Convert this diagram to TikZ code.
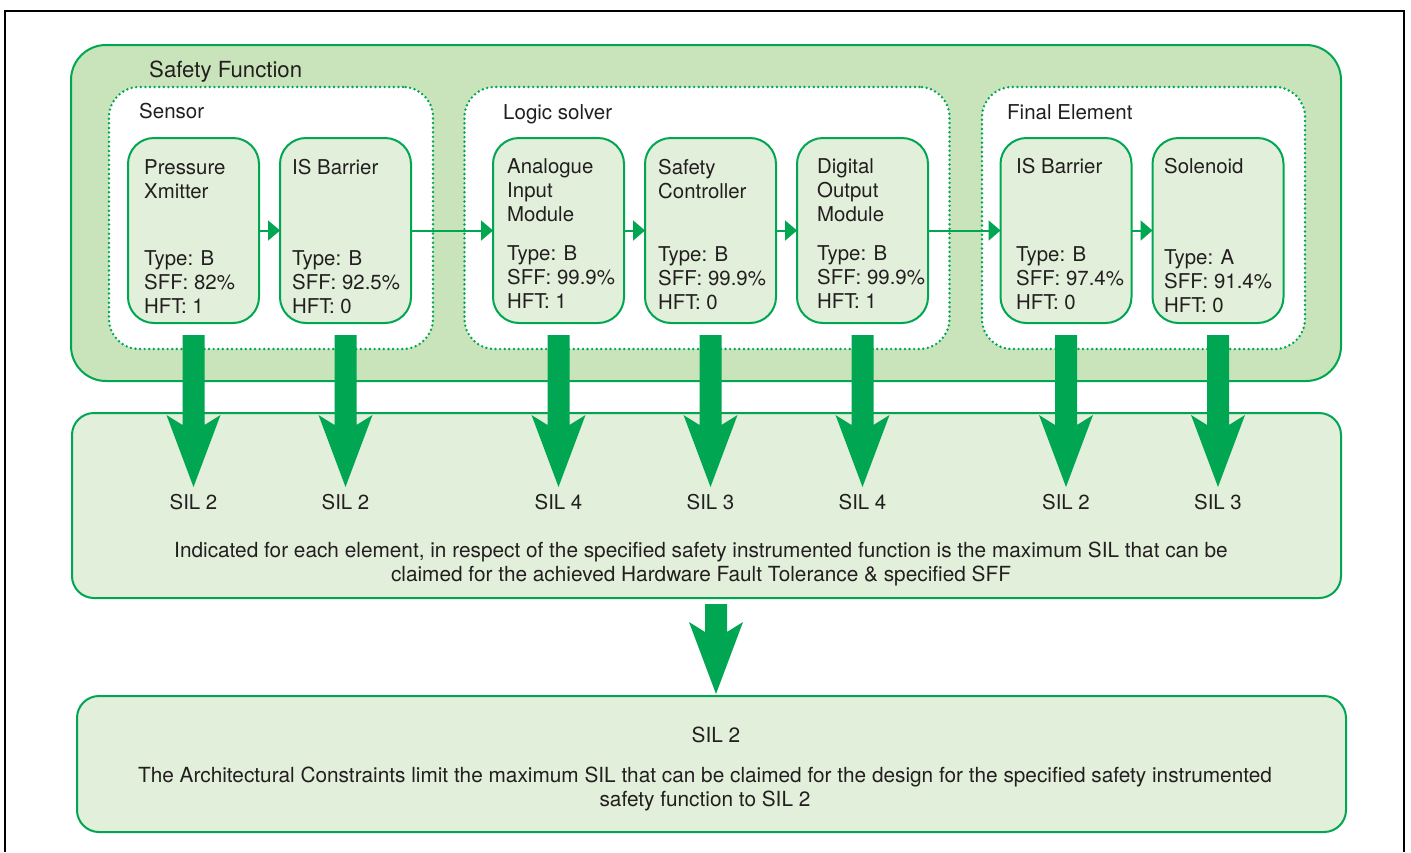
\documentclass[tikz,border=0pt]{standalone}
\usepackage{fontspec}
\setmainfont{TeX Gyre Heros}
\usetikzlibrary{arrows.meta}
\definecolor{sfgreen}{HTML}{00A651}
\definecolor{outerfill}{HTML}{C9E4BB}
\definecolor{innerfill}{HTML}{E2EFDA}
\definecolor{txtc}{HTML}{231F20}
\newcommand\txtlines[4]{\foreach \myline [count=\i] in {#4}{\node[txt,anchor=base west] (#1-\i) at (#2,{#3+24*(\i-1)}) {\myline};}}
\begin{document}
\begin{tikzpicture}[x=1pt,y=-1pt,
 box/.style={draw=sfgreen, line width=2pt, rectangle, inner sep=0pt, outer sep=0pt},
 outerbox/.style={box, fill=outerfill, rounded corners=35pt},
 groupbox/.style={box, fill=white, dash pattern=on 0pt off 4.6pt, line cap=round, line width=2.7pt, rounded corners=30pt},
 elem/.style={box, fill=innerfill, rounded corners=26pt, minimum width=131pt, minimum height=185pt},
 resbox/.style={box, fill=innerfill, rounded corners=22pt, minimum width=1269pt},
 txt/.style={text=txtc, font=\fontsize{20.4}{24}\selectfont, inner sep=0pt},
 bodytxt/.style={txt, anchor=base, font=\fontsize{20.8}{24}\selectfont},
 grouplabel/.style={txt, anchor=base west, font=\fontsize{20.5}{25}\selectfont},
 flow/.style={draw=sfgreen, line width=2pt, -{Triangle[length=12pt,width=20pt]}},
 pics/bigarrow/.style={code={\fill[sfgreen] (-11,0) -- (-11,#1) -- (-27,#1-10) -- (0,#1+62) -- (27,#1-10) -- (11,#1) -- (11,0) -- cycle;}}
]
\useasboundingbox (0,0) rectangle (1411,852);
\fill[white] (0,0) rectangle (1411,852);
% frame
\draw[line width=2pt] (5,852) -- (5,11) -- (1404,11) -- (1404,852);

% safety function
\node[outerbox, minimum width=1270pt, minimum height=336pt] (sf) at (706,213) {};
\node[grouplabel, font=\fontsize{22.2}{26}\selectfont] (sflabel) at (149,77) {Safety Function};

% groups
\node[groupbox, minimum width=324pt, minimum height=262pt] (sensor) at (271,218) {};
\node[groupbox, minimum width=485pt, minimum height=262pt] (logic) at (707,218) {};
\node[groupbox, minimum width=323pt, minimum height=262pt] (final) at (1143.5,218) {};
\node[grouplabel] (sensorlabel) at (139,118) {Sensor};
\node[grouplabel] (logiclabel) at (503,119) {Logic solver};
\node[grouplabel] (finallabel) at (1007,119) {Final Element};

% elements
\node[elem] (e1) at (193.5,230.5) {};
\node[elem] (e2) at (345.5,230.5) {};
\node[elem] (e3) at (558.5,230.5) {};
\node[elem] (e4) at (710.5,230.5) {};
\node[elem] (e5) at (862.5,230.5) {};
\node[elem] (e6) at (1066,230.5) {};
\node[elem] (e7) at (1218,230.5) {};

\txtlines{e1a}{144}{174}{Pressure, Xmitter}
\txtlines{e1b}{144}{265}{Type: B, SFF: 82\%, HFT: 1}
\txtlines{e2a}{292}{174}{IS Barrier}
\txtlines{e2b}{292}{265}{Type: B, SFF: 92.5\%, HFT: 0}
\txtlines{e3a}{507}{173}{Analogue, Input, Module}
\txtlines{e3b}{507}{260}{Type: B, SFF: 99.9\%, HFT: 1}
\txtlines{e4a}{658}{174}{Safety, Controller}
\txtlines{e4b}{658}{261}{Type: B, SFF: 99.9\%, HFT: 0}
\txtlines{e5a}{817}{173}{Digital, Output, Module}
\txtlines{e5b}{817}{260}{Type: B, SFF: 99.9\%, HFT: 1}
\txtlines{e6a}{1016}{173}{IS Barrier}
\txtlines{e6b}{1016}{261}{Type: B, SFF: 97.4\%, HFT: 0}
\txtlines{e7a}{1164}{173}{Solenoid}
\txtlines{e7b}{1164}{264}{Type: A, SFF: 91.4\%, HFT: 0}

% flow connectors
\draw[flow] (e1.east) -- (e2.west);
\draw[flow] (e2.east) -- (e3.west);
\draw[flow] (e3.east) -- (e4.west);
\draw[flow] (e4.east) -- (e5.west);
\draw[flow] (e5.east) -- (e6.west);
\draw[flow] (e6.east) -- (e7.west);

% middle box
\node[resbox, minimum height=185pt] (mid) at (706.5,505.5) {};
\node[txt, anchor=base] (s1) at (e1.center |- 0,509) {SIL 2};
\node[txt, anchor=base] (s2) at (e2.center |- 0,509) {SIL 2};
\node[txt, anchor=base] (s3) at (e3.center |- 0,509) {SIL 4};
\node[txt, anchor=base] (s4) at (e4.center |- 0,509) {SIL 3};
\node[txt, anchor=base] (s5) at (e5.center |- 0,509) {SIL 4};
\node[txt, anchor=base] (s6) at (e6.center |- 0,509) {SIL 2};
\node[txt, anchor=base] (s7) at (e7.center |- 0,509) {SIL 3};
\node[bodytxt] (midl1) at (701,557) {Indicated for each element, in respect of the specified safety instrumented function is the maximum SIL that can be};
\node[bodytxt] (midl2) at (701,581) {claimed for the achieved Hardware Fault Tolerance \& specified SFF};

% result box
\node[resbox, minimum height=136pt] (res) at (711.5,764) {};
\node[bodytxt] (ressil) at (716,742) {SIL 2};
\node[bodytxt] (resl1) at (705,782) {The Architectural Constraints limit the maximum SIL that can be claimed for the design for the specified safety instrumented};
\node[bodytxt] (resl2) at (705,806) {safety function to SIL 2};

% big arrows
\foreach \e in {e1,e2,e3,e4,e5,e6,e7}{
  \pic at ([yshift=-12pt]\e.south) {bigarrow=90};
}
\pic at (716,604) {bigarrow=28};
\end{tikzpicture}
\end{document}
